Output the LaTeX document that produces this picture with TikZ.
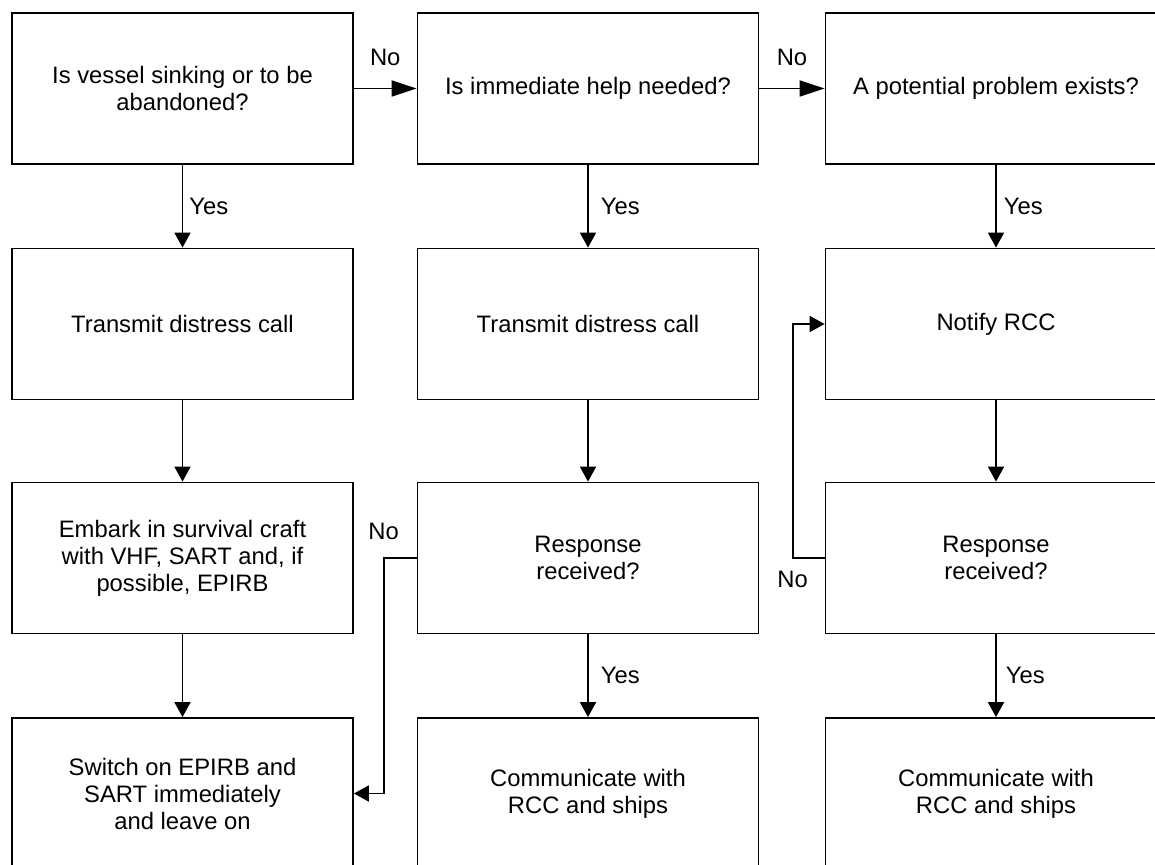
\documentclass[tikz,border=0pt]{standalone}
\usepackage{fontspec}
\setmainfont{Liberation Sans}
\usetikzlibrary{arrows.meta,positioning}

\begin{document}
\begin{tikzpicture}[
  x=0.5pt, y=-0.5pt,
  box/.style={draw, rectangle, line width=0.9pt, minimum width=170.5pt,
              minimum height=75.5pt, align=center, inner sep=0pt,
              font=\fontsize{11.9}{13.5}\selectfont},
  lbl/.style={inner sep=0pt, font=\fontsize{11.9}{13.5}\selectfont},
  flow/.style={line width=0.9pt, -{Triangle[length=7.5pt, width=8pt]}},
  noflow/.style={line width=0.9pt, -{Triangle[length=12.5pt, width=8pt]}}
]

% Page (boxes run off the right and bottom edges)
\path[use as bounding box, clip] (0,0) rectangle (1155,865);

% ======= Vessel sinking =======
\node[box] (sink)   at (182.5,88.5)  {Is vessel sinking or to be\\abandoned?};
\node[box] (call1)  at (182.5,324)   {Transmit distress call};
\node[box] (embark) at (182.5,558)   {Embark in survival craft\\with VHF, SART and, if\\possible, EPIRB};
\node[box] (switch) at (182.5,793.5) {Switch on EPIRB and\\SART immediately\\and leave on};

% ======= Immediate help =======
\node[box] (help)  at (588,88.5)  {Is immediate help needed?};
\node[box] (call2) at (588,324)   {Transmit distress call};
\node[box] (resp2) at (588,558)   {Response\\received?};
\node[box] (comm2) at (588,793.5) {Communicate with\\RCC and ships};

% ======= Potential problem =======
\node[box] (prob)   at (996,88.5)  {A potential problem exists?};
\node[box] (notify) at (996,324)   {Notify RCC};
\node[box] (resp3)  at (996,558)   {Response\\received?};
\node[box] (comm3)  at (996,793.5) {Communicate with\\RCC and ships};

% ======= No branches along the top =======
\draw[noflow] (sink) -- node[lbl, above=11pt]{No} (help);
\draw[noflow] (help) -- node[lbl, above=11pt]{No} (prob);

% ======= Yes branches =======
\draw[flow] (sink)  -- node[lbl, right=3pt]{Yes} (call1);
\draw[flow] (help)  -- node[lbl, right=6pt]{Yes} (call2);
\draw[flow] (prob)  -- node[lbl, right=3.5pt]{Yes} (notify);
\draw[flow] (resp2) -- node[lbl, right=6pt]{Yes} (comm2);
\draw[flow] (resp3) -- node[lbl, right=4.5pt]{Yes} (comm3);

\foreach \a/\b in {call1/embark, embark/switch, call2/resp2, notify/resp3}
  \draw[flow] (\a) -- (\b);

% ======= No loops =======
\draw[flow] (resp2.west) -- ++(-33,0) node[lbl, above=8.5pt]{No} |- (switch.east);
\draw[flow] (resp3.west) -- ++(-32,0) node[lbl, below=6pt]{No} |- (notify.west);

\end{tikzpicture}
\end{document}
